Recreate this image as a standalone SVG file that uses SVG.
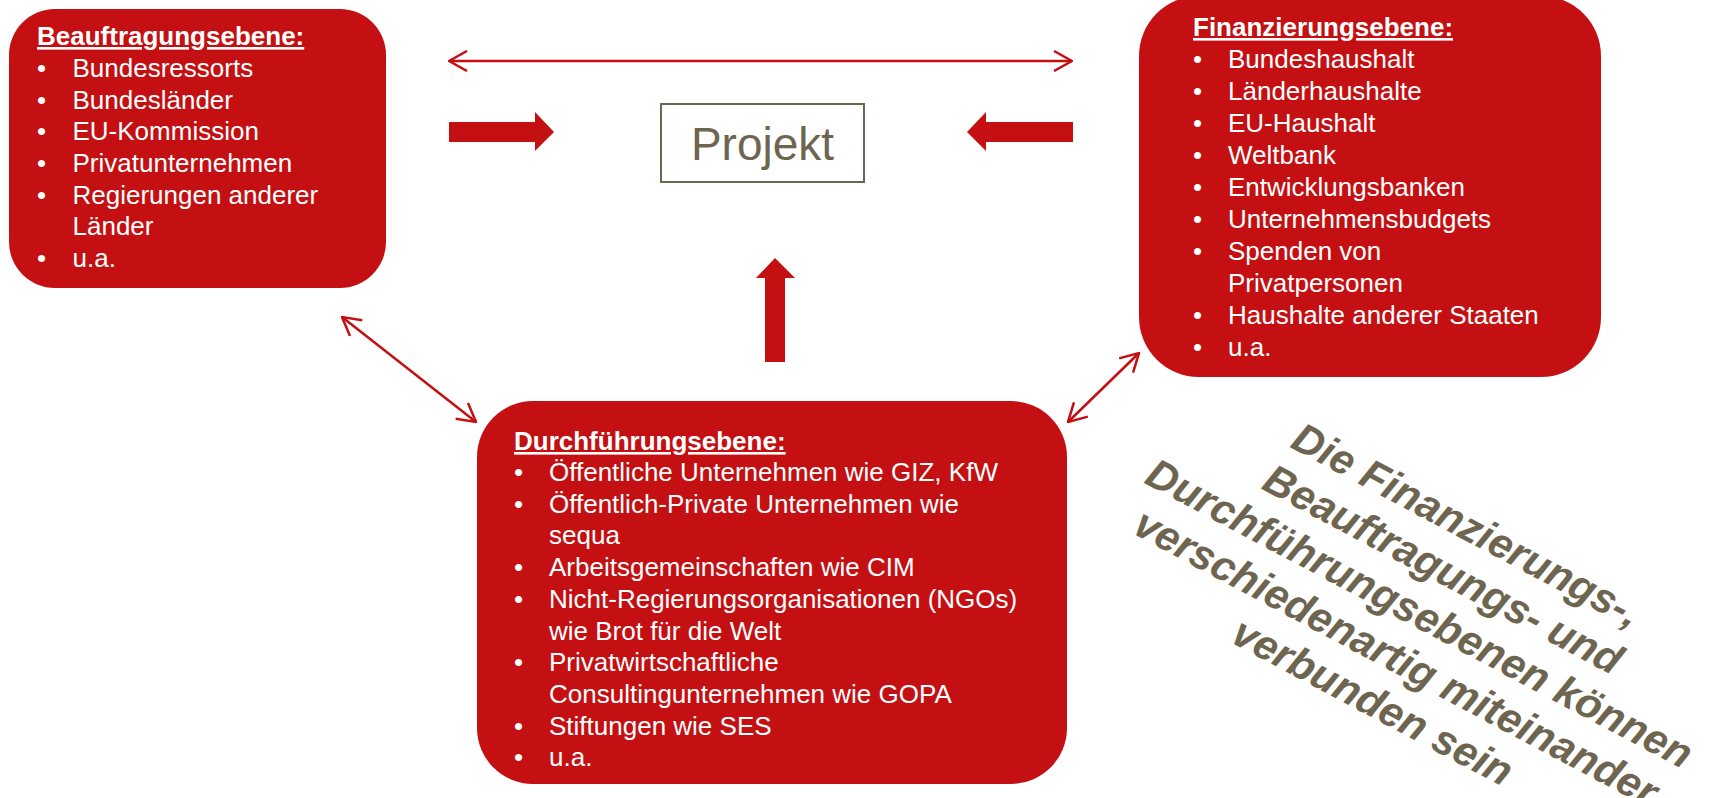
<svg xmlns="http://www.w3.org/2000/svg" width="1725" height="798" viewBox="0 0 1725 798">
<style>
.box{fill:#C41012;}
.t{font-family:"Liberation Sans",Arial,sans-serif;font-size:26px;fill:#FFFFFF;}
.h{font-weight:bold;text-decoration:underline;}
.thin{stroke:#C41012;stroke-width:2.5;fill:none;}
.blk{fill:#C41012;}
.gray{fill:#6E6551;font-family:"Liberation Sans",Arial,sans-serif;}
</style>
<defs>
<marker id="v" viewBox="0 0 20 22" refX="19" refY="11" markerWidth="20" markerHeight="22" markerUnits="userSpaceOnUse" orient="auto-start-reverse">
<path d="M1,1 L19,11 L1,21" fill="none" stroke="#C41012" stroke-width="2.5"/>
</marker>
</defs>
<rect width="1725" height="798" fill="#FFFFFF"/>

<g id="connectors">
<line class="thin" x1="449" y1="61" x2="1072" y2="61" marker-start="url(#v)" marker-end="url(#v)"/>
<line class="thin" x1="342" y1="317" x2="476" y2="422" marker-start="url(#v)" marker-end="url(#v)"/>
<line class="thin" x1="1139" y1="353" x2="1068" y2="422" marker-start="url(#v)" marker-end="url(#v)"/>
<polygon class="blk" points="449,122 535,122 535,112 554,132 535,151 535,142 449,142"/>
<polygon class="blk" points="1073,122 986,122 986,112 967,132 986,151 986,142 1073,142"/>
<polygon class="blk" points="775,258 795,278 785,278 785,362 765,362 765,278 756,278"/>
</g>

<g id="beauftragung">
<rect class="box" x="9" y="9" width="377" height="279" rx="46" ry="46"/>
<text class="t h" x="37" y="45">Beauftragungsebene:</text>
<g class="t">
<text x="37" y="77">•</text><text x="72.5" y="77">Bundesressorts</text>
<text x="37" y="108.7">•</text><text x="72.5" y="108.7">Bundesländer</text>
<text x="37" y="140.3">•</text><text x="72.5" y="140.3">EU-Kommission</text>
<text x="37" y="172">•</text><text x="72.5" y="172">Privatunternehmen</text>
<text x="37" y="203.7">•</text><text x="72.5" y="203.7">Regierungen anderer</text>
<text x="72.5" y="235.3">Länder</text>
<text x="37" y="267">•</text><text x="72.5" y="267">u.a.</text>
</g>
</g>

<g id="finanzierung">
<rect class="box" x="1139" y="-4" width="462" height="381" rx="60" ry="60"/>
<text class="t h" x="1193" y="36">Finanzierungsebene:</text>
<g class="t">
<text x="1193" y="68">•</text><text x="1228" y="68">Bundeshaushalt</text>
<text x="1193" y="100">•</text><text x="1228" y="100">Länderhaushalte</text>
<text x="1193" y="132">•</text><text x="1228" y="132">EU-Haushalt</text>
<text x="1193" y="164">•</text><text x="1228" y="164">Weltbank</text>
<text x="1193" y="196">•</text><text x="1228" y="196">Entwicklungsbanken</text>
<text x="1193" y="228">•</text><text x="1228" y="228">Unternehmensbudgets</text>
<text x="1193" y="260">•</text><text x="1228" y="260">Spenden von</text>
<text x="1228" y="292">Privatpersonen</text>
<text x="1193" y="324">•</text><text x="1228" y="324">Haushalte anderer Staaten</text>
<text x="1193" y="356">•</text><text x="1228" y="356">u.a.</text>
</g>
</g>

<g id="durchfuehrung">
<rect class="box" x="477" y="401" width="590" height="383" rx="56" ry="56"/>
<text class="t h" x="514" y="450">Durchführungsebene:</text>
<g class="t">
<text x="514" y="481">•</text><text x="549" y="481">Öffentliche Unternehmen wie GIZ, KfW</text>
<text x="514" y="512.7">•</text><text x="549" y="512.7">Öffentlich-Private Unternehmen wie</text>
<text x="549" y="544.4">sequa</text>
<text x="514" y="576.1">•</text><text x="549" y="576.1">Arbeitsgemeinschaften wie CIM</text>
<text x="514" y="607.8">•</text><text x="549" y="607.8">Nicht-Regierungsorganisationen (NGOs)</text>
<text x="549" y="639.5">wie Brot für die Welt</text>
<text x="514" y="671.2">•</text><text x="549" y="671.2">Privatwirtschaftliche</text>
<text x="549" y="702.9">Consultingunternehmen wie GOPA</text>
<text x="514" y="734.6">•</text><text x="549" y="734.6">Stiftungen wie SES</text>
<text x="514" y="766.3">•</text><text x="549" y="766.3">u.a.</text>
</g>
</g>

<g id="projekt">
<rect x="661" y="104" width="203" height="78" fill="#FFFFFF" stroke="#6E6551" stroke-width="2"/>
<text class="gray" x="762.5" y="160" font-size="46" text-anchor="middle">Projekt</text>
</g>

<g id="hinweis" transform="translate(1413,626) rotate(28)">
<g class="gray" font-size="42" font-weight="bold" font-style="italic" text-anchor="middle">
<text x="0" y="-100">Die Finanzierungs-,</text>
<text x="0" y="-50">Beauftragungs- und</text>
<text x="0" y="0">Durchführungsebenen können</text>
<text x="0" y="50">verschiedenartig miteinander</text>
<text x="0" y="100">verbunden sein</text>
</g>
</g>
</svg>
